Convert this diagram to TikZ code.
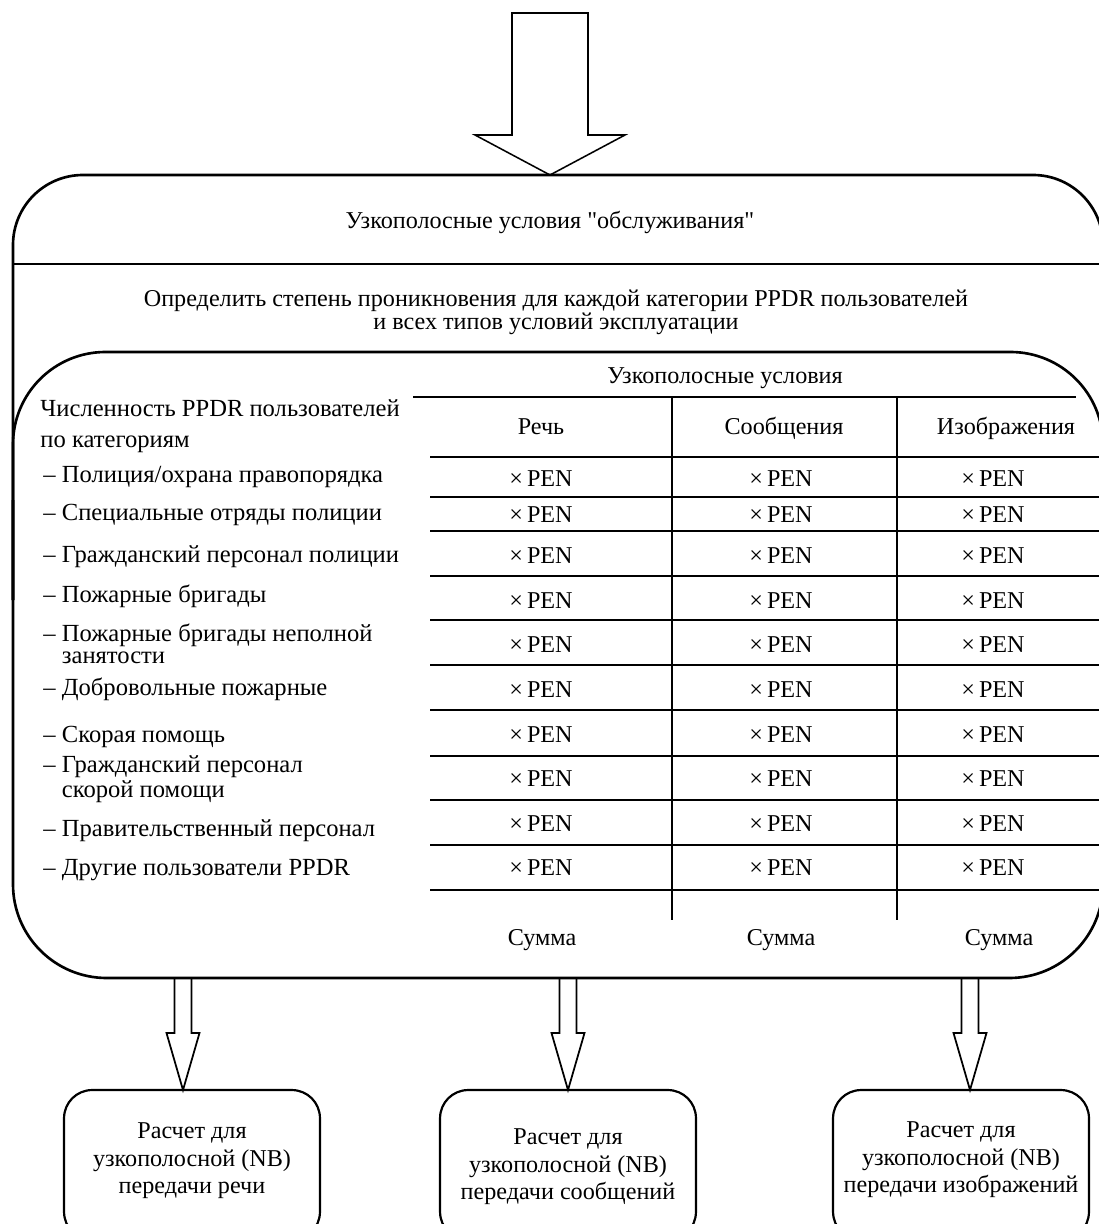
\documentclass[tikz,border=0pt]{standalone}
\usepackage{fontspec}
\setmainfont{Liberation Serif}[Ligatures=TeXOff]
\usetikzlibrary{positioning}

\tikzset{
  outline/.style={line width=1.2pt, rounded corners=#1},
  tabline/.style={line width=1.3pt},
  fatarrow/.style={line width=0.8pt, line join=miter},
  lbl/.style={inner sep=0pt, anchor=base, font=\fontsize{11}{12.3}\selectfont},
  cat/.style={inner sep=0pt, anchor=base west, align=left, font=\fontsize{11.2}{9.8}\selectfont},
  calcbox/.style={draw, line width=1pt, rounded corners=0.45cm, minimum width=4.096cm, minimum height=2.4cm, inner sep=0pt},
}

\begin{document}
\begin{tikzpicture}[x=0.016cm, y=-0.016cm]
\useasboundingbox (0,0) rectangle (1098,1224);

% incoming arrow
\draw[fatarrow, line width=0.7pt] (512,13) -- (588,13) -- (588,135) -- (625,135) -- (550,175) -- (475,135) -- (512,135) -- cycle;

% outer frame
\draw[outline=1.12cm] (13,600) -- (13,175) -- (1103,175) -- (1103,600);
\draw[outline=1.5cm] (13,500) -- (13,978) -- (1103,978) -- (1103,500);
\draw[line width=1.2pt] (13,264) -- (1103,264);
\draw[outline=1.48cm] (13,600) -- (13,352) -- (1103,352) -- (1103,600);

\node[lbl] (title) at (550,229) {Узкополосные условия "обслуживания"};
\node[lbl, align=center, font=\fontsize{11}{10.5}\selectfont] (task) at (556,330)
  {Определить степень проникновения для каждой категории PPDR пользователей\\и всех типов условий эксплуатации};

% table
\node[lbl] (nbhead) at (725,384) {Узкополосные условия};
\draw[tabline] (413,397) -- (1076,397);
\foreach \ry in {457,497,531,576,620,665,710,756,800,845,890}
  \draw[tabline] (430,\ry) -- (1103,\ry);
\draw[tabline] (672,397) -- (672,920);
\draw[tabline] (897,397) -- (897,920);

\node[lbl] (speech) at (541,435) {Речь};
\node[lbl] (msg) at (784,435) {Сообщения};
\node[lbl] (img) at (1006,435) {Изображения};

\foreach \ry [count=\i] in {486,522,563,608,652,697,742,786,831,875} {
  \node[lbl] (pena\i) at (541,\ry) {×\,PEN};
  \node[lbl] (penb\i) at (781,\ry) {×\,PEN};
  \node[lbl] (penc\i) at (993,\ry) {×\,PEN};
}

\node[lbl] (suma) at (542,945) {Сумма};
\node[lbl] (sumb) at (781,945) {Сумма};
\node[lbl] (sumc) at (999,945) {Сумма};

% user categories
\node[cat, font=\fontsize{11.2}{13.7}\selectfont] (users) at (40,447) {Численность PPDR пользователей\\по категориям};
\node[cat] (cat1) at (43,482) {– Полиция/охрана правопорядка};
\node[cat] (cat2) at (43,520) {– Специальные отряды полиции};
\node[cat] (cat3) at (43,562) {– Гражданский персонал полиции};
\node[cat] (cat4) at (43,602) {– Пожарные бригады};
\node[cat] (cat5) at (43,663) {– Пожарные бригады неполной\\\phantom{– }занятости};
\node[cat] (cat6) at (43,695) {– Добровольные пожарные};
\node[cat] (cat7) at (43,742) {– Скорая помощь};
\node[cat] (cat8) at (43,797) {– Гражданский персонал\\\phantom{– }скорой помощи};
\node[cat] (cat9) at (43,836) {– Правительственный персонал};
\node[cat] (cat10) at (43,875) {– Другие пользователи PPDR};

% results
\node[calcbox] (calc1) at (192,1165) {};
\node[calcbox] (calc2) at (568,1165) {};
\node[calcbox] (calc3) at (961,1165) {};

\node[lbl, align=center] (calc1txt) at (192,1193) {Расчет для\\узкополосной (NB)\\передачи речи};
\node[lbl, align=center] (calc2txt) at (568,1199) {Расчет для\\узкополосной (NB)\\передачи сообщений};
\node[lbl, align=center] (calc3txt) at (961,1192) {Расчет для\\узкополосной (NB)\\передачи изображений};

\foreach \ax in {183,568,970}
  \draw[fatarrow] (\ax-8.5,978) -- (\ax-8.5,1033) -- (\ax-16.5,1033) -- (\ax,1090) -- (\ax+16.5,1033) -- (\ax+8.5,1033) -- (\ax+8.5,978);
\end{tikzpicture}
\end{document}
